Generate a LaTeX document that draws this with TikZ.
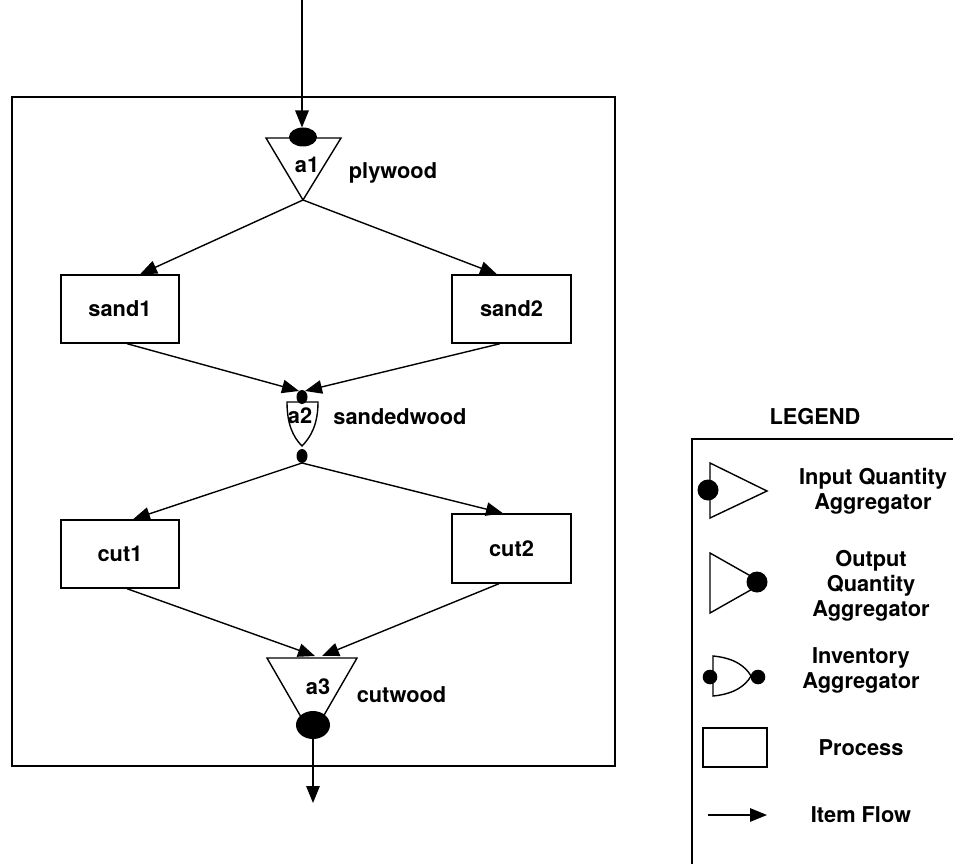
\documentclass[tikz,border=0pt]{standalone}
\usepackage{fontspec}
\setmainfont{TeX Gyre Heros}
\usetikzlibrary{arrows.meta}
\begin{document}
\begin{tikzpicture}[x=1pt,y=-1pt,
  every node/.style={font=\fontsize{21.8}{25}\selectfont\bfseries,inner sep=0pt},
  ln/.style={line width=1.4pt},
  flow/.style={ln,-{Triangle[length=17pt,width=13.5pt]}},
  procbox/.style={draw,line width=1.4pt,minimum width=118pt,minimum height=68pt,inner sep=0pt},
  legtext/.style={align=center}
]
\useasboundingbox (0,0) rectangle (953,864);
% main frame
\node[draw,ln,minimum width=603pt,minimum height=669pt] (frame) at (313.5,431.5) {};
% processes
\node[procbox] (sand1) at (120,309) {sand1};
\node[procbox,minimum width=119pt] (sand2) at (511.5,309) {sand2};
\node[procbox] (cut1) at (120,554) {cut1};
\node[procbox,minimum width=119pt,minimum height=69pt] (cut2) at (511.5,548.5) {cut2};
% a1
\coordinate (in) at (302,0);
\coordinate (a1top) at (303,137);
\coordinate (a1dottop) at (302,127.5);
\coordinate (a1apex) at (303,200);
\draw[ln,fill=white] (266,138) -- (341,138) -- (a1apex) -- cycle;
\fill (a1top) ellipse [x radius=14pt, y radius=9.5pt];
\node (a1l) at (307,165) {a1};
\node (ply) at (393,173) {plywood};
\draw[flow] (in) -- (a1dottop);
\draw[flow] (a1apex) -- ([xshift=20pt]sand1.north);
\draw[flow] (a1apex) -- ([xshift=-14.5pt]sand2.north);
% a2
\coordinate (a2in) at (302,391);
\coordinate (a2topdot) at (302,397);
\coordinate (a2botdot) at (302,456);
\coordinate (a2out) at (302,463);
\draw[ln,fill=white] (287,402) -- (318,402) .. controls (318,424) and (311,437) .. (302,446)
   .. controls (293,437) and (287,424) .. (287,402) -- cycle;
\fill (a2topdot) ellipse [x radius=5.5pt, y radius=7pt];
\fill (a2botdot) ellipse [x radius=5.5pt, y radius=7pt];
\node (a2l) at (300,416) {a2};
\node (sandw) at (400,417) {sandedwood};
\draw[flow] ([xshift=7pt]sand1.south) -- ([xshift=-3pt]a2in);
\draw[flow] ([xshift=-11.5pt]sand2.south) -- ([xshift=3pt]a2in);
\draw[flow] (a2out) -- ([xshift=13pt]cut1.north);
\draw[flow] (a2out) -- ([xshift=-8.5pt]cut2.north);
% a3
\coordinate (a3in) at (318.5,656);
\coordinate (a3apex) at (312,736);
\coordinate (a3dot) at (313,725);
\coordinate (a3dotbot) at (313,739);
\coordinate (out) at (313,803);
\draw[ln,fill=white] (267,658) -- (357,658) -- (a3apex) -- cycle;
\fill (a3dot) ellipse [x radius=17pt, y radius=14pt];
\node (a3l) at (318,687) {a3};
\node (cutw) at (401.5,695) {cutwood};
\draw[flow] ([xshift=7pt]cut1.south) -- ([xshift=-3.5pt]a3in);
\draw[flow] ([xshift=-12.5pt]cut2.south) -- ([xshift=3.5pt]a3in);
\draw[flow] (a3dotbot) -- (out);
% legend
\node (legend) at (815,417) {LEGEND};
\draw[ln] (953,439) -- (692,439) -- (692,864);
% input quantity aggregator
\draw[ln,fill=white] (710,463) -- (767,491) -- (710,518) -- cycle;
\fill (708,490) circle [radius=10.5pt];
\node[legtext] (liqa) at (873,491.5) {Input Quantity\\Aggregator};
% output quantity aggregator
\draw[ln,fill=white] (710,553) -- (763,583) -- (710,613) -- cycle;
\fill (757,582) circle [radius=10.5pt];
\node[legtext] (loqa) at (871,586) {Output\\Quantity\\Aggregator};
% inventory aggregator
\draw[ln,fill=white] (713,656) .. controls (735,658) and (746,667) .. (751,676)
   .. controls (746,685) and (735,694) .. (713,696) -- cycle;
\fill (710,677) circle [radius=7.3pt];
\fill (758,677) circle [radius=7.3pt];
\node[legtext] (linv) at (861,670) {Inventory\\Aggregator};
% process
\node[draw,ln,minimum width=64pt,minimum height=39pt] (lproc) at (735,747.5) {};
\node (lproct) at (861,748) {Process};
% item flow
\coordinate (lf1) at (708,815);
\coordinate (lf2) at (767,815);
\draw[flow] (lf1) -- (lf2);
\node (lflow) at (861,815) {Item Flow};
\end{tikzpicture}
\end{document}
